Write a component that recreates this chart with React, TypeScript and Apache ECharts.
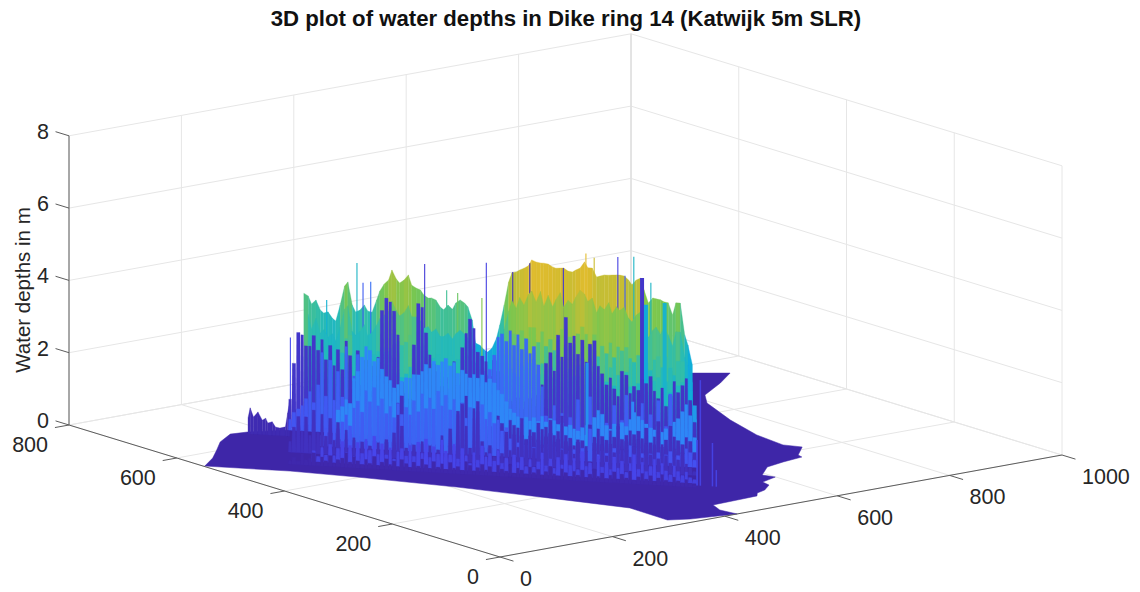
import React, { useEffect, useRef } from "react";
import * as echarts from "echarts";

const titleText = "3D plot of water depths in Dike ring 14 (Katwijk 5m SLR)";
const zAxisName = "Water depths in m";
const xTicks = [0, 200, 400, 600, 800, 1000];
const yTicks = [0, 200, 400, 600, 800];
const zTicks = [0, 2, 4, 6, 8];

// z = 0 outline of the flooded area: [x, y]
const floorX = [2,40,74,107,147,174,229,461,812,886,928,881,820,793,757,732,725,739,705,702,663,627,592,599,567,563,540,521,510,473,428,417,422,407,351,322,324,264,207,132,79];
const floorY = [550,575,603,631,654,650,628,666,661,567,541,510,475,443,362,287,231,210,182,172,166,158,131,114,104,88,72,66,55,53,51,27,0,3,13,25,97,201,296,403,472];

// along-wall columns of the surface
const colX = [
  285,288,292,296,299,303,306,310,314,317,
  321,325,328,332,336,339,343,346,350,354,
  357,361,365,368,372,376,379,383,386,390,
  394,397,401,405,408,412,415,419,423,426,
  430,434,437,441,445,448,452,455,459,463,
  466,470,474,477,481,485,488,492,495,499,
  503,506,510,514,517,521,525,528,532,535,
  539,543,546,550,554,557,561,565,568,572,
  576,579,583,586,590,594,597,601,605,608,
  612,616,619,623,626,630,634,637,641,645,
  648,652,656];
const wallSum = 975;
const _ = null;

const rowA = [
  _,_,_,_,3.37,3.30,3.08,3.20,2.93,2.85,
  2.89,2.72,2.65,3.10,3.63,3.75,3.12,2.93,2.99,3.14,
  2.98,2.95,3.29,3.55,3.75,3.87,4.15,3.91,3.80,3.89,
  4.04,3.76,3.69,3.64,3.51,3.43,3.44,3.39,3.20,3.13,
  3.27,3.16,3.34,3.43,3.35,3.25,2.89,2.26,2.21,2.08,
  2.03,2.15,2.43,2.80,3.36,4.00,4.26,4.29,4.35,4.41,
  4.48,4.65,4.60,4.58,4.58,4.56,4.49,4.46,4.47,4.48,
  4.40,4.38,4.44,4.50,4.68,4.52,4.52,4.28,4.31,4.35,
  4.35,4.36,4.37,4.37,4.35,4.25,4.12,4.26,4.32,4.00,
  3.64,3.79,3.77,3.75,3.70,3.68,3.35,3.69,3.69,2.82,
  2.54,2.00];
const rowB = [
  _,_,_,_,_,2.9,2.5,2.8,2.4,2.5,
  2.3,2.4,2.2,2.6,3.1,3.2,2.5,2.4,2.5,2.7,
  2.4,2.5,2.7,2.9,3.0,3.1,3.4,3.15,3.0,3.1,
  3.3,3.0,3.0,2.9,2.7,2.75,2.6,2.7,2.5,2.5,
  2.6,2.45,2.6,2.7,2.6,2.5,2.2,1.8,1.7,1.6,
  1.5,1.6,1.9,2.2,2.8,3.3,3.6,3.4,3.7,3.5,
  3.8,3.9,3.6,3.9,3.5,3.8,3.5,3.7,3.9,3.5,
  3.7,3.6,3.8,4.0,3.9,3.7,3.8,3.4,3.6,3.5,
  3.7,3.4,3.6,3.5,3.6,3.3,3.2,3.4,3.5,3.0,
  2.8,3.0,3.1,2.9,3.1,2.9,2.6,3.0,3.0,2.3,
  2.1,1.6];
const rowC = [
  _,_,_,_,_,2.3,2.0,2.2,1.9,2.0,
  1.8,1.9,1.7,2.0,2.4,2.5,2.0,1.8,1.9,2.2,
  1.9,2.0,2.1,2.2,2.1,2.2,2.6,2.4,2.3,2.4,
  2.6,2.3,2.5,2.3,2.1,2.2,2.0,2.1,1.9,2.0,
  2.1,1.9,2.0,2.1,2.0,1.9,1.7,1.4,1.3,1.2,
  1.1,1.2,1.5,1.7,2.2,2.6,2.8,2.5,2.9,2.7,
  3.0,3.0,2.6,2.9,2.5,2.7,2.4,2.7,3.0,2.5,
  2.8,2.6,2.9,3.1,2.9,2.6,2.9,2.3,2.6,2.4,
  2.7,2.3,2.6,2.5,2.6,2.3,2.2,2.4,2.6,2.2,
  2.0,2.3,2.4,2.1,2.4,2.1,1.9,2.3,2.3,1.7,
  1.5,1.1];
const rowC2 = [
  _,_,_,_,_,_,1.5,1.3,1.5,1.4,
  1.3,1.5,1.2,1.4,1.8,1.7,1.4,1.3,1.4,1.6,
  1.4,1.5,1.5,1.6,1.5,1.4,1.7,1.6,1.5,1.6,
  1.8,1.6,1.7,1.6,1.5,1.7,1.6,1.7,1.5,1.6,
  1.7,1.6,1.7,1.8,1.7,1.6,1.4,1.3,1.2,1.1,
  1.0,1.0,1.2,1.4,1.7,1.9,1.8,1.7,2.0,1.9,
  2.1,2.2,1.8,2.1,1.8,2.0,1.7,1.9,2.2,1.7,
  2.0,1.8,2.1,2.3,2.1,1.8,2.1,1.6,1.9,1.7,
  2.1,1.6,1.9,1.8,2.0,1.6,1.5,1.7,2.0,1.5,
  1.4,1.8,1.9,1.6,1.8,1.5,1.3,1.7,1.8,1.2,
  1.1,0.8];
const rowD = [
  0.8,1.8,2.66,2.6,2.3,2.3,2.6,2.2,2.5,1.95,
  2.35,1.8,2.25,1.7,2.5,2.1,1.4,2.25,1.3,2.0,
  1.15,1.85,2.1,3.4,3.75,3.65,3.4,2.75,1.45,1.15,
  1.0,2.5,3.65,3.55,2.85,2.25,2.0,1.8,1.4,1.65,
  1.1,2.1,1.45,2.5,2.9,3.3,3.05,2.4,2.3,2.15,
  1.75,2.2,1.9,1.2,1.0,1.1,1.0,1.2,0.9,1.1,
  1.2,1.0,1.3,1.6,2.2,2.5,2.0,3.0,2.4,3.5,
  2.8,3.0,2.5,2.9,2.3,2.8,2.9,2.2,2.0,1.7,
  1.9,1.6,1.4,2.1,2.0,1.5,1.7,1.6,1.9,1.8,
  2.0,1.6,1.4,1.7,1.2,1.5,1.9,1.6,1.8,2.0,
  1.4,0.8];
const rowE = [
  0.3,0.5,0.6,0.7,0.9,1.1,0.8,1.3,2.2,1.0,
  2.0,0.9,1.7,1.0,2.4,0.8,1.6,2.2,1.1,1.8,
  1.0,1.6,0.9,1.0,0.7,0.9,0.6,0.8,0.9,1.0,
  0.8,0.9,0.7,0.8,0.9,1.0,1.2,0.9,1.3,1.0,
  1.4,1.0,1.5,1.1,0.9,1.0,1.2,1.5,1.6,1.0,
  2.0,2.4,2.9,3.0,2.8,3.1,2.7,3.0,2.6,2.9,
  2.5,2.7,2.2,1.6,0.8,0.3,1.1,0.3,0.9,0.2,
  0.8,0.2,1.3,0.3,0.6,1.4,0.3,0.9,0.2,0.7,
  0.3,1.2,0.2,0.8,1.5,0.3,0.7,0.2,1.3,0.4,
  1.0,0.2,1.4,0.3,0.7,1.6,0.2,0.9,0.3,0.6,
  0.5,0.3];
const rowF = [
  _,_,_,_,_,_,_,_,_,_,
  _,_,0.8,0.9,1.1,1.0,1.7,1.9,2.3,2.6,
  2.5,2.2,2.3,2.0,1.8,1.7,1.5,1.6,1.7,1.8,
  1.8,1.9,1.9,2.0,2.2,2.1,2.3,2.2,2.3,2.4,
  2.2,2.3,2.0,2.1,2.0,1.9,2.0,1.9,2.0,1.8,
  1.9,1.8,1.6,1.5,1.3,1.1,1.0,0.9,0.8,0.9,
  0.8,0.9,0.8,0.95,0.8,0.9,0.85,0.75,0.8,0.7,
  0.75,0.65,0.6,0.7,0.5,0.65,1.0,1.2,1.1,0.8,
  0.7,0.85,0.7,0.9,0.8,1.0,1.2,1.1,1.0,0.9,
  0.8,0.75,0.85,0.7,0.8,0.9,1.0,1.1,1.3,1.5,
  1.2,0.6];
const rowF2 = [
  _,_,_,_,_,_,_,_,_,_,
  _,_,_,_,_,_,_,_,_,_,
  _,_,_,_,_,_,_,1.2,1.4,_,
  _,_,_,_,_,_,_,_,_,_,
  _,_,_,1.3,1.5,_,_,_,_,_,
  0.7,_,1.0,0.8,0.6,0.9,0.5,0.7,0.5,0.4,
  0.5,0.6,0.4,0.7,0.5,0.6,0.55,0.45,1.1,0.4,
  0.5,0.3,0.4,0.45,0.3,0.9,0.4,0.8,0.6,0.5,
  0.4,0.6,0.9,0.55,0.5,0.8,0.7,0.8,0.6,0.9,
  0.5,0.45,1.1,0.4,0.6,1.0,0.7,0.6,0.5,0.7,
  0.6,0.3];
const rowG = [
  _,_,_,_,_,_,_,_,0.3,0.5,
  0.4,0.6,0.5,0.7,0.9,0.6,1.1,1.3,1.0,1.6,
  1.3,1.7,1.2,1.4,1.0,1.2,0.9,1.3,1.0,1.2,
  1.0,1.4,1.1,1.6,1.2,1.5,1.2,1.7,1.3,1.6,
  1.2,1.5,1.1,1.4,1.0,1.3,1.0,1.2,1.4,1.0,
  1.2,0.9,1.0,0.7,0.8,0.5,0.6,0.4,0.55,0.35,
  0.5,0.3,0.45,0.3,0.4,0.25,0.35,0.2,0.3,0.2,
  0.25,0.3,0.2,0.35,0.25,0.9,0.3,0.2,0.3,0.25,
  0.3,0.4,0.25,0.35,0.3,0.5,0.3,0.45,0.3,0.25,
  0.3,0.2,0.35,0.25,0.3,0.4,0.25,0.3,0.35,0.5,
  0.4,0.2];
const rowH = [
  0.3,0.7,1.0,0.6,1.0,0.5,1.2,0.6,1.1,0.5,
  1.0,0.4,0.9,0.3,0.7,0.2,0.5,0.2,0.4,0.15,
  0.3,0.1,0.4,0.2,0.5,0.2,0.7,1.2,0.9,0.3,
  0.2,0.4,0.15,0.5,0.2,0.4,0.15,0.3,0.7,0.2,
  0.9,0.3,1.4,1.6,1.0,0.4,1.5,1.7,0.6,0.3,
  0.5,0.2,0.4,0.3,0.9,0.4,1.1,0.5,1.3,0.7,
  1.0,0.5,1.2,0.6,1.1,1.3,0.7,1.0,0.5,0.9,
  0.6,0.4,0.8,0.3,0.5,0.2,0.9,0.3,0.7,0.4,
  1.1,0.5,1.3,0.6,1.0,0.4,0.7,0.9,0.4,0.8,
  0.5,1.0,0.4,0.8,0.5,0.3,0.7,0.4,0.6,0.3,
  0.2,0.1];
const rowI = [
  _,_,_,_,_,_,0.3,0.15,0.4,0.2,
  0.5,0.2,0.4,0.6,0.3,0.5,0.2,0.6,0.3,0.7,
  0.4,0.8,0.3,0.6,0.3,0.5,0.2,0.4,0.5,0.3,
  0.6,0.3,0.7,0.4,0.8,0.3,0.6,0.4,0.8,0.5,
  0.4,0.7,0.3,0.6,0.4,0.2,0.5,0.3,0.7,0.4,
  0.5,0.3,0.6,0.25,0.4,0.2,0.5,0.3,0.45,0.2,
  0.4,0.2,0.35,0.6,0.25,0.45,0.2,0.5,0.3,0.6,
  0.3,0.5,0.2,0.7,0.3,0.4,0.2,0.6,0.3,0.45,
  0.25,0.6,0.3,0.5,0.2,0.45,0.7,0.3,0.5,0.25,
  0.4,0.6,0.25,0.5,0.3,0.2,0.45,0.3,0.2,0.3,
  0.15,0.1];
const rowJ = [
  0.1,0.2,0.1,0.3,0.15,0.2,0.35,0.1,0.25,0.15,
  0.3,0.1,0.2,0.25,0.4,0.15,0.3,0.2,0.1,0.25,
  0.15,0.35,0.1,0.2,0.3,0.15,0.25,0.1,0.3,0.2,
  0.1,0.25,0.15,0.35,0.2,0.1,0.3,0.15,0.25,0.1,
  0.3,0.15,0.2,0.1,0.35,0.25,0.1,0.2,0.3,0.15,
  0.25,0.1,0.3,0.2,0.15,0.35,0.1,0.25,0.2,0.1,
  0.3,0.15,0.25,0.1,0.2,0.35,0.15,0.1,0.3,0.2,
  0.1,0.25,0.15,0.3,0.1,0.2,0.35,0.15,0.25,0.1,
  0.2,0.3,0.1,0.25,0.15,0.35,0.1,0.2,0.3,0.15,
  0.25,0.1,0.2,0.3,0.15,0.1,0.25,0.15,0.1,0.2,
  0.1,0.05];

// small fringe left of the main wall
const fringeX = [168,170,173,177,181,184,186,190,193,197,202,204,206];
const fringeY = [643,641,638,634,630,627,625,621,618,614,609,607,605];
const fringeZ = [0.44,0.72,0.47,0.62,0.40,0.46,0.33,0.37,0.23,0.21,0.25,0.64,1.0];

// isolated pillars: x, y, depth, colour value
const thinX = [336,342,349,398,418,428,450,454,309,276,544,552,573,588,603,478,493,524,580];
const thinY = [616,611,604,555,535,525,503,499,644,677,408,401,379,365,349,475,459,429,373];
const thinZ = [4.37,3.83,3.87,4.45,3.76,3.70,3.60,4.58,3.30,2.20,5.00,4.89,4.95,4.98,4.29,4.37,4.64,4.56,4.44];
const thinC = [2.6,1.0,1.2,0.5,3.2,3.6,3.8,0.6,2.4,0.8,4.7,4.4,0.6,2.6,2.6,0.3,0.2,0.4,1.0];
const wideX = [595,599,616];
const wideY = [357,354,337];
const wideZ = [4.41,3.67,3.75];
const wideC = [0.35,2.2,2.5];
const midX = [476,517];
const midY = [335,293];
const midZ = [2.5,1.5];
const midC = [1.7,1.5];
const frontX = [484,481,495,498];
const frontY = [133,136,122,118];
const frontZ = [2.92,1.26,1.2,0.46];
const frontC = [0.6,0.7,0.6,0.6];

const FONT = '"Liberation Sans", Arial, sans-serif';
const TEXT = "#262626";

const project = (x: number, y: number, z: number): [number, number] => [
  500 + x * 0.562 - y * 0.53875,
  557 - x * 0.102 - y * 0.165 - z * 36.15,
];

const parulaStops: [number, number[]][] = [
  [0, [62, 38, 168]],
  [0.125, [71, 72, 240]],
  [0.25, [46, 135, 247]],
  [0.375, [15, 174, 217]],
  [0.5, [44, 189, 175]],
  [0.625, [123, 199, 79]],
  [0.75, [217, 187, 45]],
  [0.875, [254, 195, 56]],
  [1, [249, 251, 21]],
];
const parula = (value: number) => {
  const t = Math.max(0, Math.min(1, value / 6));
  for (let i = 1; i < parulaStops.length; i++) {
    if (t <= parulaStops[i][0]) {
      const [a, ca] = parulaStops[i - 1];
      const [b, cb] = parulaStops[i];
      const f = (t - a) / (b - a);
      return `rgb(${ca.map((v, k) => Math.round(v + (cb[k] - v) * f)).join(",")})`;
    }
  }
  return "rgb(249,251,21)";
};

const polySeries = (data: number[][], z: number, needle: number) => ({
  type: "custom",
  coordinateSystem: "cartesian2d",
  silent: true,
  z,
  data,
  renderItem: (_p: any, api: any) => {
    const x0 = api.value(0), y0 = api.value(1), z0 = api.value(2);
    const x1 = api.value(3), y1 = api.value(4), z1 = api.value(5);
    const pts = [
      [x0, y0, 0],
      [x1, y1, 0],
      [x1 + (x0 - x1) * needle, y1 + (y0 - y1) * needle, z1],
      [x0 + (x1 - x0) * needle, y0 + (y1 - y0) * needle, z0],
    ].map((p) => api.coord(project(p[0], p[1], p[2])));
    const c = parula(api.value(6));
    return { type: "polygon", shape: { points: pts }, style: { fill: c, stroke: c, lineWidth: 0.3 } };
  },
});

// smooth rows join neighbouring column tops, the others keep a needle per column
const wall = (
  row: (number | null)[],
  forward: number,
  colour: (z: number) => number,
  z: number,
  needle: number,
) => {
  const data: number[][] = [];
  const smooth = needle < 0;
  row.forEach((a, i) => {
    if (a === null || i + 1 >= colX.length) return;
    const next = smooth ? row[i + 1] : a;
    if (next === null || next === undefined) return;
    const dx = forward * 3.648;
    const dy = forward * 3.805;
    data.push([
      colX[i] - dx, wallSum - colX[i] - dy, a,
      colX[i + 1] - dx, wallSum - colX[i + 1] - dy, next,
      colour(smooth ? (a + next) / 2 : a),
    ]);
  });
  return polySeries(data, z, Math.max(needle, 0));
};

const pillars = (xs: number[], ys: number[], zs: number[], cs: number[], width: number, z: number) => ({
  type: "custom",
  coordinateSystem: "cartesian2d",
  silent: true,
  z,
  data: xs.map((x, i) => [x, ys[i], zs[i], cs[i]]),
  renderItem: (_p: any, api: any) => {
    const a = api.coord(project(api.value(0), api.value(1), 0));
    const b = api.coord(project(api.value(0), api.value(1), api.value(2)));
    return {
      type: "line",
      shape: { x1: a[0], y1: a[1], x2: b[0], y2: b[1] },
      style: { stroke: parula(api.value(3)), lineWidth: width },
    };
  },
});

const segments = (data: number[][], stroke: string, width: number, z: number) => ({
  type: "custom",
  coordinateSystem: "cartesian2d",
  silent: true,
  z,
  data,
  renderItem: (_p: any, api: any) => {
    const a = api.coord(project(api.value(0), api.value(1), api.value(2)));
    const b = api.coord(project(api.value(3), api.value(4), api.value(5)));
    return {
      type: "line",
      shape: { x1: a[0], y1: a[1], x2: b[0], y2: b[1] },
      style: { stroke, lineWidth: width },
    };
  },
});

const tickLabels = (
  points: number[][],
  labels: number[],
  align: string,
  ox: number,
  oy: number,
) => ({
  type: "custom",
  coordinateSystem: "cartesian2d",
  silent: true,
  z: 60,
  data: points,
  renderItem: (p: any, api: any) => {
    const a = api.coord(project(api.value(0), api.value(1), api.value(2)));
    return {
      type: "text",
      x: a[0] + ox,
      y: a[1] + oy,
      style: {
        text: String(labels[p.dataIndex]),
        fill: TEXT,
        font: `21.5px ${FONT}`,
        align,
        verticalAlign: "middle",
        textAlign: align,
        textVerticalAlign: "middle",
      },
    };
  },
});

export default function App() {
  const ref = useRef<HTMLDivElement>(null);
  useEffect(() => {
    document.body.style.margin = "0";
    const chart = echarts.init(ref.current!, undefined, { renderer: "svg" });

    const grid: number[][] = [];
    xTicks.forEach((x) => {
      grid.push([x, 0, 0, x, 800, 0]);
      grid.push([x, 800, 0, x, 800, 8]);
    });
    yTicks.forEach((y) => {
      grid.push([0, y, 0, 1000, y, 0]);
      grid.push([1000, y, 0, 1000, y, 8]);
    });
    zTicks.forEach((z) => {
      grid.push([0, 800, z, 1000, 800, z]);
      grid.push([1000, 0, z, 1000, 800, z]);
    });
    const axes: number[][] = [
      [0, 0, 0, 1000, 0, 0],
      [0, 0, 0, 0, 800, 0],
      [0, 800, 0, 0, 800, 8],
    ];
    xTicks.forEach((x) => axes.push([x, 0, 0, x, -25, 0]));
    yTicks.forEach((y) => axes.push([0, y, 0, -25, y, 0]));
    zTicks.forEach((z) => axes.push([0, 800, z, 0, 825, z]));

    const floorSeries = {
      type: "custom",
      coordinateSystem: "cartesian2d",
      silent: true,
      z: 5,
      data: [[0, 0]],
      renderItem: (_p: any, api: any) => ({
        type: "polygon",
        shape: { points: floorX.map((x, i) => api.coord(project(x, floorY[i], 0))) },
        style: { fill: parula(0), stroke: parula(0), lineWidth: 0.5 },
      }),
    };

    const fringeData: number[][] = [];
    for (let i = 0; i + 1 < fringeX.length; i++) {
      fringeData.push([
        fringeX[i], fringeY[i], fringeZ[i],
        fringeX[i + 1], fringeY[i + 1], fringeZ[i + 1], 0.1,
      ]);
    }

    chart.setOption({
      animation: false,
      backgroundColor: "#ffffff",
      title: {
        text: titleText,
        left: 561,
        top: 2,
        textAlign: "center",
        textStyle: { fontFamily: FONT, fontWeight: "bold", fontSize: 22.2, color: "#111111" },
      },
      grid: { left: 0, right: 0, top: 0, bottom: 0, containLabel: false },
      xAxis: { type: "value", min: 0, max: 1140, show: false },
      yAxis: { type: "value", min: 0, max: 592, inverse: true, show: false },
      graphic: [
        {
          type: "text",
          x: 22,
          y: 290,
          rotation: Math.PI / 2,
          style: {
            text: zAxisName,
            fill: TEXT,
            font: `20.5px ${FONT}`,
            align: "center",
            verticalAlign: "middle",
            textAlign: "center",
            textVerticalAlign: "middle",
          },
        },
      ],
      series: [
        segments(grid, "#e6e6e6", 1, 1),
        segments([[1000, 800, 0, 1000, 800, 8]], "#e0e0e0", 1.4, 2),
        floorSeries,
        polySeries(fringeData, 6, 0),
        wall(rowA, 0, (z) => z, 10, -1),
        pillars(thinX, thinY, thinZ, thinC, 1.1, 11),
        wall(rowB, 4, (z) => z + 0.3, 12, -1),
        wall(rowC, 8, (z) => z + 0.75, 13, 0.06),
        wall(rowC2, 11, (z) => z + 1.0, 14, 0.08),
        pillars(wideX, wideY, wideZ, wideC, 4, 15),
        wall(rowD, 14, (z) => 0.25 + 0.04 * z, 16, 0.12),
        wall(rowE, 16, (z) => 0.85 + 0.1 * z, 17, 0.12),
        wall(rowF, 22, () => 1.5, 18, 0.08),
        pillars(midX, midY, midZ, midC, 3, 19),
        wall(rowF2, 26, () => 0.25, 20, 0.1),
        wall(rowG, 30, (z) => 0.8 + 0.2 * z, 21, 0.12),
        wall(rowH, 38, (z) => 0.2 + 0.05 * z, 22, 0.15),
        wall(rowI, 46, (z) => 0.55 + 0.2 * z, 23, 0.15),
        wall(rowJ, 50, () => 0.05, 24, 0.1),
        pillars(frontX, frontY, frontZ, frontC, 1.5, 25),
        segments(axes, "#5c5c5c", 1, 50),
        tickLabels(xTicks.map((x) => [x, 0, 0]), xTicks, "left", 20, 22),
        tickLabels(yTicks.map((y) => [0, y, 0]), yTicks, "right", -21, 20),
        tickLabels(zTicks.map((z) => [0, 800, z]), zTicks, "right", -20, -4),
      ],
    });
    return () => chart.dispose();
  }, []);
  return (
    <div
      ref={ref}
      style={{ position: "absolute", left: 0, top: 0, width: 1140, height: 592 }}
    />
  );
}
